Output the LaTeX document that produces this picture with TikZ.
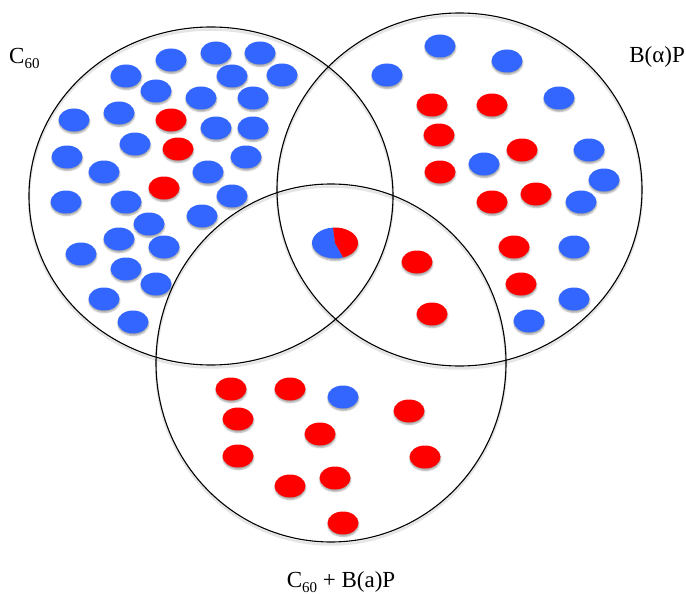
\documentclass[tikz,border=0pt]{standalone}
\usepackage{fontspec}
\setmainfont{Liberation Serif}
\usetikzlibrary{shapes.geometric,shadows.blur}
\definecolor{dotblue}{RGB}{51,102,255}
\definecolor{dotred}{RGB}{255,0,0}

\begin{document}
\begin{tikzpicture}[x=1pt,y=-1pt,
  setring/.style={ellipse, draw=black, line width=1.1pt, inner sep=0pt},
  ringshade/.style={line width=2.5pt, black, opacity=0.10},
  particle/.style={ellipse, inner sep=0pt, minimum width=31pt, minimum height=23pt,
    blur shadow={shadow xshift=0.3pt, shadow yshift=-2pt, shadow blur radius=1.5pt, shadow opacity=35}},
  bdot/.style={particle, fill=dotblue},
  rdot/.style={particle, fill=dotred},
  setlabel/.style={inner sep=0pt, font=\fontsize{23}{26}\selectfont}
]
\useasboundingbox (0,0) rectangle (686,594);

% soft shadows under the three set outlines
\begin{scope}[transform canvas={yshift=-2.5pt}]
  \draw[ringshade] (211,196) ellipse [x radius=182pt, y radius=169pt];
  \draw[ringshade] (459.5,189.5) ellipse [x radius=182.5pt, y radius=176.5pt];
  \draw[ringshade] (331,363) ellipse [x radius=175pt, y radius=179pt];
\end{scope}

% the three sets
\node[setring, minimum width=364pt, minimum height=338pt] (setC) at (211,196) {};
\node[setring, minimum width=365pt, minimum height=353pt] (setB) at (459.5,189.5) {};
\node[setring, minimum width=350pt, minimum height=358pt] (setCB) at (331,363) {};

% particles of the C60 set
\foreach \px/\py [count=\i] in {126/76, 171/60, 216/53, 260/53, 232/76, 282/75, 156/91, 201/98,
    253/98, 74/120, 119/113, 216/128, 253/128, 135/144, 67/157, 246/157, 104/172, 208/172,
    232/196, 66/202, 126/202, 202/216, 149/224, 119/239, 164/247, 81/254, 126/269, 156/284,
    104/299, 133/322}
  \node[bdot] (cb\i) at (\px,\py) {};
\foreach \px/\py [count=\i] in {171/120, 178/149, 164/188}
  \node[rdot] (cr\i) at (\px,\py) {};

% particles of the B(alpha)P set
\foreach \px/\py [count=\i] in {440/46, 507/61, 387/75, 559/98, 589/150, 484/164, 604/180,
    581/202, 574/247, 574/299, 529/321}
  \node[bdot] (bb\i) at (\px,\py) {};
\foreach \px/\py [count=\i] in {432/105, 492/105, 439/135, 522/150, 440/172, 536/194, 492/202,
    514/247, 521/284, 417/262, 432/314}
  \node[rdot] (br\i) at (\px,\py) {};

% particles of the combined set
\node[bdot] (mb1) at (343,397) {};
\foreach \px/\py [count=\i] in {231/389, 290/389, 238/419, 409/411, 320/434, 238/456, 425/457,
    335/478, 290/486, 343/523}
  \node[rdot] (mr\i) at (\px,\py) {};

% mixed particle in the triple overlap
\node[particle, minimum width=46pt, minimum height=31pt] (mix) at (335,243) {};
\begin{scope}[shift={(mix.center)}, x=23pt, y=15.5pt]
  \fill[dotblue] (0,0) -- (95:1) arc[start angle=95, end angle=291, radius=1] -- cycle;
  \fill[dotred] (0,0) -- (-69:1) arc[start angle=-69, end angle=95, radius=1] -- cycle;
\end{scope}

% set labels
\node[setlabel, anchor=base west] (labC) at (9,64) {C\raisebox{-5pt}{\fontsize{15}{16}\selectfont 60}};
\node[setlabel, anchor=base east] (labB) at (685,63) {B(α)P};
\node[setlabel, anchor=base] (labCB) at (341,587) {C\raisebox{-5pt}{\fontsize{15}{16}\selectfont 60} + B(a)P};
\end{tikzpicture}
\end{document}
